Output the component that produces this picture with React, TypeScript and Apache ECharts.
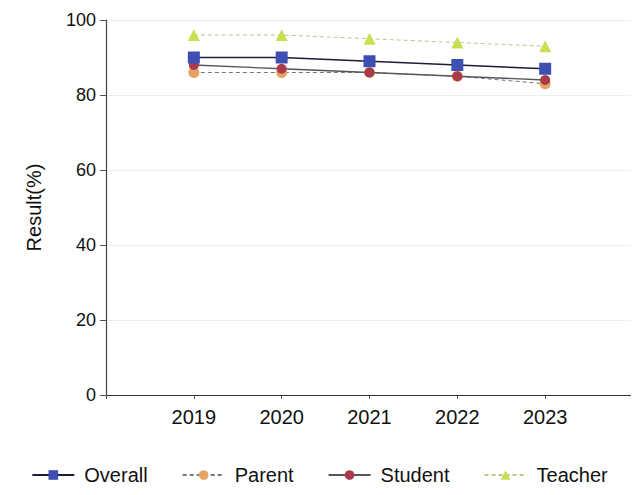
import React, { useEffect, useRef } from "react";
import * as echarts from "echarts";

// Survey results by year, per respondent group (percent)
const years = [2019, 2020, 2021, 2022, 2023];
const overall = [90, 90, 89, 88, 87];
const parent = [86, 86, 86, 85, 83];
const student = [88, 87, 86, 85, 84];
const teacher = [96, 96, 95, 94, 93];
const yTicks = [0, 20, 40, 60, 80, 100];

const FONT = "'Liberation Sans', Arial, sans-serif";

const pairs = (vals: number[]) => years.map((y, i) => [y, vals[i]]);

export default function App() {
  const ref = useRef<HTMLDivElement>(null);

  useEffect(() => {
    if (!ref.current) return;
    const chart = echarts.init(ref.current, undefined, { renderer: "svg" });
    chart.setOption({
      animation: false,
      backgroundColor: "#ffffff",
      grid: { left: 106, right: 6, top: 20, bottom: 100, containLabel: false },
      legend: {
        bottom: 5,
        left: "center",
        itemWidth: 42,
        itemHeight: 12,
        itemGap: 34,
        textStyle: {
          fontFamily: FONT,
          fontSize: 20,
          color: "#111",
          padding: [0, 0, 0, 5],
        },
        data: ["Overall", "Parent", "Student", "Teacher"],
      },
      xAxis: {
        type: "value",
        min: years[0] - 1,
        max: years[years.length - 1] + 1,
        interval: 1,
        axisLine: { show: true, lineStyle: { color: "#333", width: 1.2 } },
        axisTick: { show: true, length: 4, lineStyle: { color: "#555" } },
        splitLine: { show: false },
        axisLabel: {
          fontFamily: FONT,
          fontSize: 20,
          color: "#111",
          margin: 12,
          formatter: (v: number) => (years.includes(v) ? String(v) : ""),
        },
      },
      yAxis: {
        type: "value",
        min: yTicks[0],
        max: yTicks[yTicks.length - 1],
        interval: 20,
        name: "Result(%)",
        nameLocation: "middle",
        nameGap: 62,
        nameTextStyle: { fontFamily: FONT, fontSize: 20, color: "#111" },
        axisLine: { show: true, lineStyle: { color: "#444", width: 1.2 } },
        axisTick: { show: true, length: 6, lineStyle: { color: "#555" } },
        splitLine: { show: true, lineStyle: { color: "#eeeeee", width: 1 } },
        axisLabel: {
          fontFamily: FONT,
          fontSize: 18,
          color: "#111",
          margin: 10,
        },
      },
      series: [
        {
          name: "Overall",
          type: "line",
          z: 5,
          data: pairs(overall),
          symbol: "rect",
          symbolSize: 12,
          itemStyle: { color: "#3d4fb2" },
          lineStyle: { color: "#1c1c3a", width: 1.5 },
        },
        {
          name: "Parent",
          type: "line",
          z: 3,
          data: pairs(parent),
          symbol: "circle",
          symbolSize: 11,
          itemStyle: { color: "#e6a262" },
          lineStyle: { color: "#777", width: 1, type: [4, 3] },
        },
        {
          name: "Student",
          type: "line",
          z: 4,
          data: pairs(student),
          symbol: "circle",
          symbolSize: 10,
          itemStyle: { color: "#a83a4a" },
          lineStyle: { color: "#555", width: 1.3 },
        },
        {
          name: "Teacher",
          type: "line",
          z: 2,
          data: pairs(teacher),
          symbol: "triangle",
          symbolSize: 12,
          itemStyle: { color: "#c8df52" },
          lineStyle: { color: "#b9c98a", width: 1, type: [4, 3] },
        },
      ],
    });
    return () => chart.dispose();
  }, []);

  return <div ref={ref} style={{ width: 639, height: 495, margin: -8 }} />;
}
